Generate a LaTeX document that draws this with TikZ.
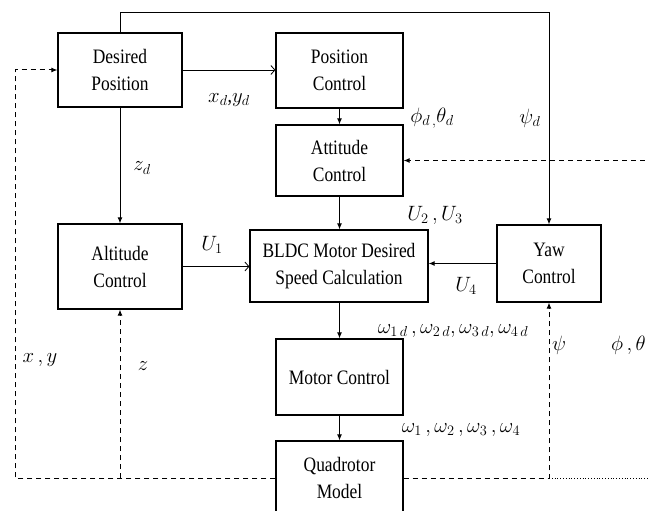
\documentclass[tikz,border=0pt]{standalone}
\usepackage{fontspec}
\setmainfont{Liberation Serif}[FakeStretch=0.85]
\usetikzlibrary{arrows.meta}
\begin{document}
\begin{tikzpicture}[x=1pt,y=-1pt,
  blk/.style={draw,line width=1.2pt,align=center,inner sep=0pt,
    font=\fontsize{20.5}{27}\selectfont},
  lab/.style={inner sep=0pt,font=\fontsize{21}{24}\selectfont},
  con/.style={line width=1pt,-{Latex[length=6pt,width=5pt]}},
  opn/.style={line width=0.8pt,-{Straight Barb[length=4pt,width=9pt]}},
  fb/.style={line width=1pt,dash pattern=on 5pt off 4pt},
  fbt/.style={fb,-{Latex[length=6pt,width=5pt]}}]
\useasboundingbox (0,0) rectangle (648,511);
\clip (0,0) rectangle (648,511);
\fill[white] (0,0) rectangle (648,511);
% blocks
\node[blk,minimum width=124pt,minimum height=74pt] (dp) at (120,70) {Desired\\Position};
\node[blk,minimum width=127pt,minimum height=75pt] (pc) at (339.5,70.5) {Position\\Control};
\node[blk,minimum width=127pt,minimum height=71pt] (ac) at (339.5,160.5) {Attitude\\Control};
\node[blk,minimum width=124pt,minimum height=85pt] (alt) at (120,266.5) {Altitude\\Control};
\node[blk,minimum width=178pt,minimum height=72pt] (bldc) at (339,266) {BLDC Motor Desired\\Speed Calculation};
\node[blk,minimum width=104pt,minimum height=77pt] (yaw) at (549,263.5) {Yaw\\Control};
\node[blk,minimum width=127pt,minimum height=76pt] (mc) at (339.5,377) {Motor Control};
\node[blk,minimum width=127pt,minimum height=74pt] (qm) at (339.5,478) {Quadrotor\\Model};
% free-end coordinates
\coordinate (cLT) at (15,70);
\coordinate (cR) at (660,478);
% forward connections
\draw[con] (dp.north) -- ++(0,-20) -| (yaw.north);
\draw[opn] (dp.east) -- (dp.east -| pc.west);
\draw[con] (dp.south) -- (alt.north);
\draw[con] (pc.south) -- (ac.north);
\draw[con] (ac.south) -- (ac.south |- bldc.north);
\draw[opn] (alt.east) -- (alt.east -| bldc.west);
\draw[con] (yaw.west) -- (yaw.west -| bldc.east);
\draw[con] (mc.north |- bldc.south) -- (mc.north);
\draw[con] (mc.south) -- (qm.north);
% feedback
\draw[fbt] (qm.west) -| (cLT) -- (dp.west);
\draw[fbt] (qm.west -| alt.south) -- (alt.south);
\draw[fbt] (qm.east) -| (yaw.south);
\draw[line width=0.8pt,dotted] (qm.east -| yaw.south) -- (cR);
\draw[fbt] (cR) |- (ac.east);
% labels
\node[lab] at (229,100) {$x_d$,$y_d$};
\node[lab] at (142,168) {$z_d$};
\node[lab] at (432,118) {$\phi_{d\,,}\theta_d$};
\node[lab] at (530,118) {$\psi_d$};
\node[lab] at (435,215) {$U_2\,,U_3$};
\node[lab] at (212,245) {$U_1$};
\node[lab] at (466,286) {$U_4$};
\node[lab] at (453,331) {$\omega_{1\,d}\,,\omega_{2\,d},\omega_{3\,d},\omega_{4\,d}$};
\node[lab] at (461,430) {$\omega_1\,,\omega_2\,,\omega_3\,,\omega_4$};
\node[lab] at (40,360) {$x\,,y$};
\node[lab] at (143,366) {$z$};
\node[lab] at (559,345) {$\psi$};
\node[lab,anchor=east] at (646,345) {$\phi\,,\theta$};
\end{tikzpicture}
\end{document}
